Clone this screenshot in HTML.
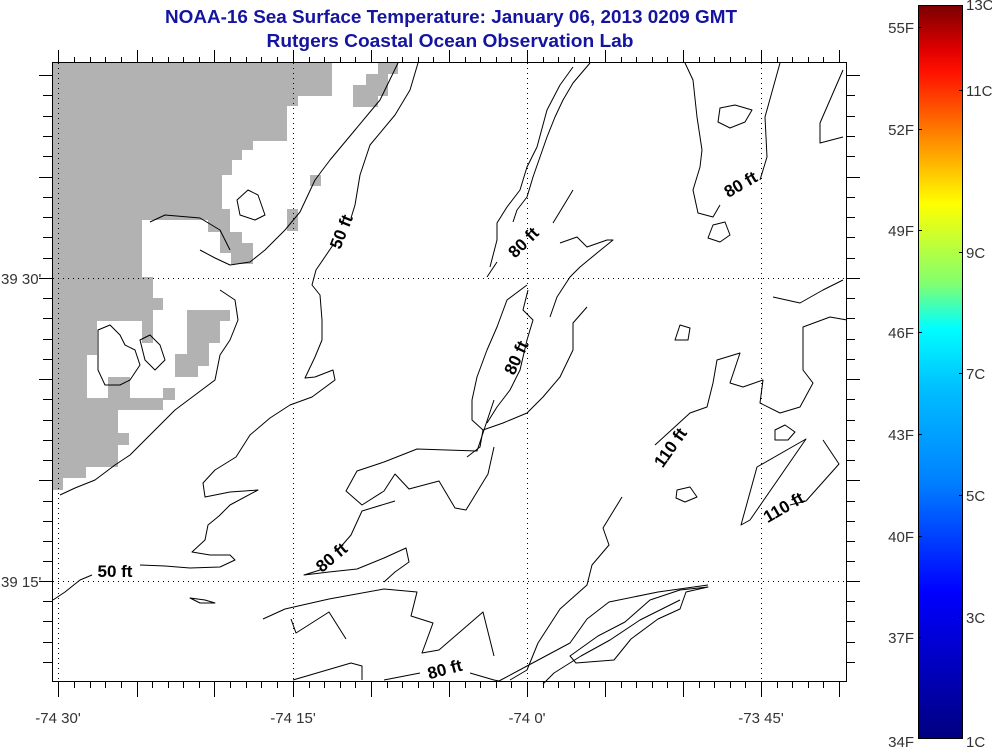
<!DOCTYPE html>
<html><head><meta charset="utf-8"><style>
html,body{margin:0;padding:0;background:#fff;width:992px;height:754px;overflow:hidden}
svg{display:block}
.ax{font-family:"Liberation Sans",sans-serif;font-size:15px;fill:#333}
.lb{font-family:"Liberation Sans",sans-serif;font-size:17px;font-weight:bold;fill:#000}
.t{font-family:"Liberation Sans",sans-serif;font-weight:bold;font-size:18px;fill:#1414a0}
</style></head><body>
<svg width="992" height="754" viewBox="0 0 992 754" xmlns="http://www.w3.org/2000/svg">
<defs>
<linearGradient id="jet" x1="0" y1="0" x2="0" y2="1">
<stop offset="0" stop-color="#7a0000"/>
<stop offset="0.06" stop-color="#e00000"/>
<stop offset="0.09" stop-color="#ff1000"/>
<stop offset="0.17" stop-color="#ff7a00"/>
<stop offset="0.27" stop-color="#ffff00"/>
<stop offset="0.38" stop-color="#80ff70"/>
<stop offset="0.44" stop-color="#00ffff"/>
<stop offset="0.52" stop-color="#00c0ff"/>
<stop offset="0.65" stop-color="#0080ff"/>
<stop offset="0.80" stop-color="#0000ff"/>
<stop offset="1" stop-color="#000080"/>
</linearGradient>
</defs>
<text class="t" x="451" y="23" text-anchor="middle" textLength="572" lengthAdjust="spacingAndGlyphs">NOAA-16 Sea Surface Temperature:  January 06, 2013 0209 GMT</text>
<text class="t" x="450" y="47" text-anchor="middle" textLength="367" lengthAdjust="spacingAndGlyphs">Rutgers Coastal Ocean Observation Lab</text>

<g fill="#b2b2b2">
<polygon points="53,63 332,63 332,96 298,96 298,106 287,106 287,141 253,141 253,150 242,150 242,160 232,160 232,175 222,175 222,209 230,209 230,232 242,232 242,243 253,243 253,264 231,264 231,253 220,253 220,232 208,232 208,220 142,220 142,277 153,277 153,298 163,298 163,310 153,310 153,343 142,343 142,321 97,321 97,355 87,355 87,398 108,398 108,377 130,377 130,398 163,398 163,410 118,410 118,433 129,433 129,445 118,445 118,467 86,467 86,478 63,478 63,490 53,490"/>
<polygon points="187,310 230,310 230,321 220,321 220,343 209,343 209,366 198,366 198,377 175,377 175,388 175,400 163,400 163,388 175,388 175,354 187,354"/>
<polygon points="378,63 398,63 398,74 388,74 388,96 378,96 378,107 353,107 353,85 366,85 366,74 378,74"/>
<rect x="310" y="175" width="11" height="11"/>
<rect x="287" y="209" width="11" height="22"/>
</g>

<g stroke="#000" stroke-width="1" stroke-dasharray="1,4" fill="none">
<line x1="58.5" y1="63" x2="58.5" y2="682"/>
<line x1="293.5" y1="63" x2="293.5" y2="682"/>
<line x1="527.5" y1="63" x2="527.5" y2="682"/>
<line x1="761.5" y1="63" x2="761.5" y2="682"/>
<line x1="53" y1="278.5" x2="846" y2="278.5"/>
<line x1="53" y1="581.5" x2="846" y2="581.5"/>
</g>

<g stroke="#000" stroke-width="1" fill="none" stroke-linejoin="round">
<path d="M418,63 L410,90 L395,115 L370,145 L360,175 L355,205 L351,218 M333,245 L316,270 L312,285 L320,295 L322,320 L322,340 L315,357 L305,378 L315,377 L333,370 L335,380 L312,397 L290,405 L270,418 L250,435 L236,457 L215,470 L203,483 L205,497 L230,492 L258,490 L230,505 L219,516 L208,525 L205,540 L192,552 L210,555 L230,555 L235,560 L220,567 L190,568 L165,566 L140,565 M92,575 L80,580 L65,592 L53,600"/>
<path d="M398,63 L380,100 L355,130 L330,160 L315,180 L300,212 L285,230 L265,250 L250,262 L230,265 L215,258 L200,250"/>
<path d="M150,222 L165,215 L200,218 L220,230 L230,250"/>
<path d="M220,290 L235,300 L238,320 L230,340 L220,355 L215,380 L195,395 L175,410 L160,425 L145,440 L130,455 L115,465 L95,480 L75,488 L60,495"/>
<path d="M98,330 L110,325 L120,335 L125,345 L135,350 L140,365 L130,380 L120,385 L105,385 L98,370 Z"/>
<path d="M140,340 L150,335 L160,345 L165,360 L155,370 L145,360 Z"/>
<path d="M237,200 L248,190 L258,195 L265,215 L255,220 L240,215 Z"/>
<path d="M590,63 L573,83 L563,100 L555,117 L547,137 L540,157 L533,177 L527,197 L517,210 L513,222 M497,262 L487,277"/>
<path d="M573,67 L560,85 L547,110 L537,147 L527,167 L520,190 L507,207 L497,223 L497,240 L490,267"/>
<path d="M553,223 L567,200 L573,190 M560,243 L577,237 L587,247 L607,240 L613,240 L597,253 L580,267 L570,277 L557,297 L550,317"/>
<path d="M527,285 L507,300 L497,327 L487,350 L477,377 L472,400 L472,420 L483,430 L480,447 L467,457"/>
<path d="M528,290 L523,310 L533,320 L527,340 L520,370 L510,390 L497,407 L487,423"/>
<path d="M587,307 L573,323 L573,350 L560,377 L543,397 L527,413 L503,423 L483,430"/>
<path d="M494,400 L477,451 L417,449 L384,462 L357,471 L346,491 L362,505 L384,491 L395,474 L409,489 L439,481 L455,508 L466,510 L488,474 L494,447"/>
<path d="M395,501 L362,511 L351,535 L338,550 M320,570 L304,575 L329,572 L357,569 L384,558 L406,548 L409,562 L395,572 L384,582"/>
<path d="M708,587 L686,592 L680,609 L658,619 L631,639 L614,660 L576,663 L570,656 L598,636 L625,622 L650,600 L680,590 Z"/>
<path d="M685,63 L693,80 L697,117 L702,150 L700,167 L693,190 L698,213 L713,217 L720,205 M760,180 L767,157 L765,117 L780,63"/>
<path d="M843,70 L820,123 L820,143 L843,137"/>
<path d="M720,108 L735,105 L752,110 L745,122 L730,128 L718,122 Z"/>
<path d="M713,225 L725,222 L730,235 L720,242 L708,238 Z"/>
<path d="M622,497 L603,528 L609,545 L592,565 L587,585 L560,609 L538,643 L527,670 L510,680"/>
<path d="M655,445 L690,413 L707,407 L713,383 L717,360 L740,353 L730,383 L743,387 L763,380 L760,403 L780,413 L800,407 L813,383 L803,370 L803,327 L830,317 L847,320"/>
<path d="M773,297 L800,303 L823,290 L843,280"/>
<path d="M823,440 L839,464 L806,501 L790,505 M750,520 L741,525 L757,467 L806,439 Z"/>
<path d="M775,430 L785,425 L795,432 L788,440 L775,440 Z"/>
<path d="M293,680 L351,663 L362,666 L362,680"/>
<path d="M384,680 L420,673 M470,673 L494,680 L499,681 L527,666 L570,643 L587,619 L609,602 L658,592 L708,585"/>
<path d="M543,684 L554,673 L581,656 L610,640 L640,620 L680,600"/>
<path d="M263,619 L285,609 L329,599 L384,589 L417,592 L411,616 L433,623 L422,653 L439,650 L483,612 L494,656"/>
<path d="M346,639 L329,612 L296,633 L291,619"/>
<path d="M677,490 L690,487 L697,497 L685,502 L676,498 Z"/>
<path d="M680,325 L690,328 L688,340 L675,340 Z"/>
<path d="M190,598 L205,600 L215,603 L200,603 Z"/>
</g>

<g class="lb">
<text transform="translate(342,232) rotate(-68)" text-anchor="middle" dy="5">50 ft</text>
<text x="115" y="577" text-anchor="middle">50 ft</text>
<text transform="translate(524,243) rotate(-45)" text-anchor="middle" dy="5">80 ft</text>
<text transform="translate(517,358) rotate(-65)" text-anchor="middle" dy="5">80 ft</text>
<text transform="translate(332,558) rotate(-40)" text-anchor="middle" dy="5">80 ft</text>
<text transform="translate(445,670) rotate(-15)" text-anchor="middle" dy="5">80 ft</text>
<text transform="translate(741,185) rotate(-30)" text-anchor="middle" dy="5">80 ft</text>
<text transform="translate(671,448) rotate(-55)" text-anchor="middle" dy="5">110 ft</text>
<text transform="translate(784,508) rotate(-30)" text-anchor="middle" dy="5">110 ft</text>
</g>

<rect x="52.5" y="62.5" width="794" height="619" fill="none" stroke="#000" stroke-width="1"/>
<g stroke="#000" stroke-width="1">
<path d="M58.5,63V50M58.5,682V697M137.5,63V50M137.5,682V697M214.5,63V50M214.5,682V697M293.5,63V50M293.5,682V697M371.5,63V50M371.5,682V697M449.5,63V50M449.5,682V697M527.5,63V50M527.5,682V697M605.5,63V50M605.5,682V697M683.5,63V50M683.5,682V697M761.5,63V50M761.5,682V697M839.5,63V50M839.5,682V697"/>
<path d="M74.5,63V57M90.5,63V57M105.5,63V57M121.5,63V57M152.5,63V57M168.5,63V57M183.5,63V57M199.5,63V57M230.5,63V57M246.5,63V57M261.5,63V57M277.5,63V57M309.5,63V57M324.5,63V57M340.5,63V57M355.5,63V57M387.5,63V57M402.5,63V57M418.5,63V57M433.5,63V57M465.5,63V57M480.5,63V57M496.5,63V57M511.5,63V57M543.5,63V57M558.5,63V57M574.5,63V57M589.5,63V57M621.5,63V57M636.5,63V57M652.5,63V57M667.5,63V57M699.5,63V57M714.5,63V57M730.5,63V57M745.5,63V57M777.5,63V57M792.5,63V57M808.5,63V57M823.5,63V57"/>
<path d="M74.5,682V688M90.5,682V688M105.5,682V688M121.5,682V688M152.5,682V688M168.5,682V688M183.5,682V688M199.5,682V688M230.5,682V688M246.5,682V688M261.5,682V688M277.5,682V688M309.5,682V688M324.5,682V688M340.5,682V688M355.5,682V688M387.5,682V688M402.5,682V688M418.5,682V688M433.5,682V688M465.5,682V688M480.5,682V688M496.5,682V688M511.5,682V688M543.5,682V688M558.5,682V688M574.5,682V688M589.5,682V688M621.5,682V688M636.5,682V688M652.5,682V688M667.5,682V688M699.5,682V688M714.5,682V688M730.5,682V688M745.5,682V688M777.5,682V688M792.5,682V688M808.5,682V688M823.5,682V688"/>
<path d="M52,75.5H39M52,177.5H39M52,278.5H39M52,379.5H39M52,480.5H39M52,581.5H39M847,75.5H860M847,177.5H860M847,278.5H860M847,379.5H860M847,480.5H860M847,581.5H860"/>
<path d="M52,95.5H43M52,116.5H43M52,136.5H43M52,156.5H43M52,197.5H43M52,217.5H43M52,237.5H43M52,258.5H43M52,298.5H43M52,318.5H43M52,339.5H43M52,359.5H43M52,399.5H43M52,420.5H43M52,440.5H43M52,460.5H43M52,501.5H43M52,521.5H43M52,541.5H43M52,561.5H43M52,601.5H43M52,621.5H43M52,642.5H43M52,662.5H43"/>
<path d="M847,95.5H855M847,116.5H855M847,136.5H855M847,156.5H855M847,197.5H855M847,217.5H855M847,237.5H855M847,258.5H855M847,298.5H855M847,318.5H855M847,339.5H855M847,359.5H855M847,399.5H855M847,420.5H855M847,440.5H855M847,460.5H855M847,501.5H855M847,521.5H855M847,541.5H855M847,561.5H855M847,601.5H855M847,621.5H855M847,642.5H855M847,662.5H855"/>
</g>

<g class="ax">
<text x="1" y="284">39 30'</text>
<text x="1" y="587">39 15'</text>
<text x="58" y="723" text-anchor="middle">-74 30'</text>
<text x="293" y="723" text-anchor="middle">-74 15'</text>
<text x="527" y="723" text-anchor="middle">-74 0'</text>
<text x="761" y="723" text-anchor="middle">-73 45'</text>
</g>

<rect x="918.5" y="5.5" width="44" height="733" fill="url(#jet)" stroke="#000" stroke-width="1"/>
<g stroke="#000"><path d="M918,27.5h4M918,129.5h4M918,230.5h4M918,332.5h4M918,434.5h4M918,536.5h4M918,637.5h4M963,90.5h-4M963,252.5h-4M963,373.5h-4M963,495.5h-4M963,617.5h-4"/></g>
<g class="ax" font-size="14">
<text x="914" y="33" text-anchor="end">55F</text>
<text x="914" y="135" text-anchor="end">52F</text>
<text x="914" y="236" text-anchor="end">49F</text>
<text x="914" y="338" text-anchor="end">46F</text>
<text x="914" y="440" text-anchor="end">43F</text>
<text x="914" y="542" text-anchor="end">40F</text>
<text x="914" y="643" text-anchor="end">37F</text>
<text x="914" y="747" text-anchor="end">34F</text>
<text x="966" y="10">13C</text>
<text x="966" y="96">11C</text>
<text x="966" y="258">9C</text>
<text x="966" y="379">7C</text>
<text x="966" y="501">5C</text>
<text x="966" y="623">3C</text>
<text x="966" y="747">1C</text>
</g>
</svg>
</body></html>
